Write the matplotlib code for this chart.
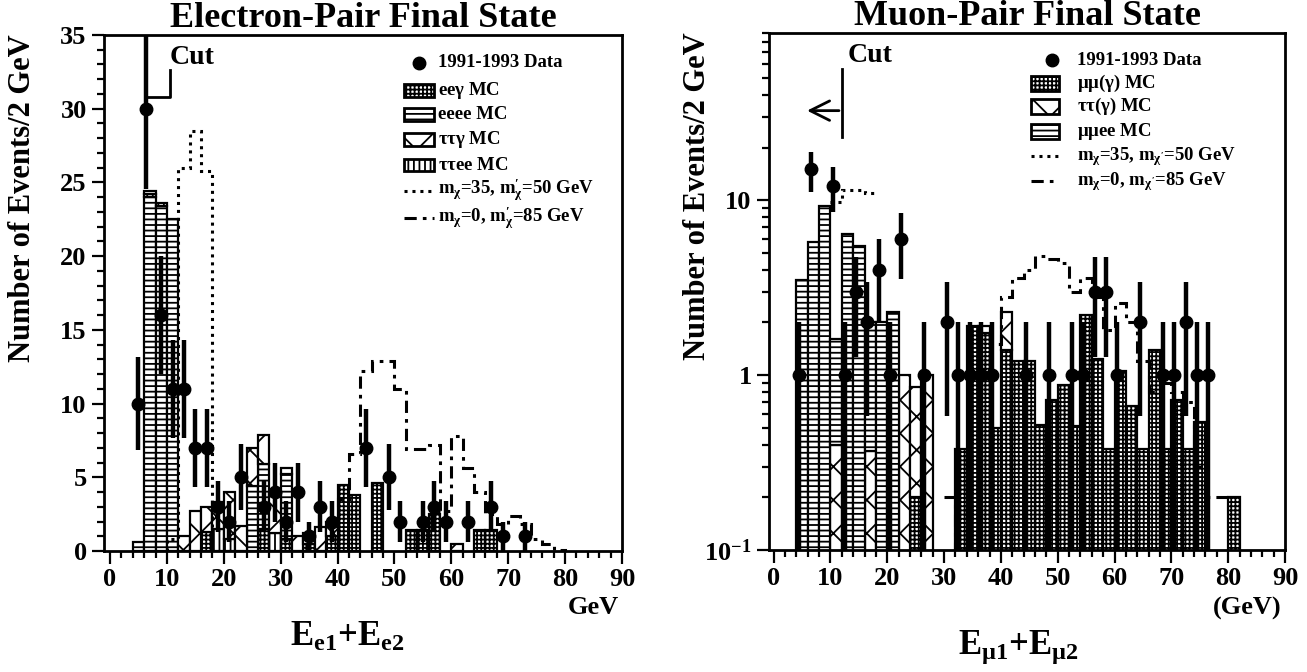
import matplotlib
matplotlib.use('Agg')
import matplotlib.pyplot as plt
import matplotlib.ticker as ticker
from matplotlib.patches import Rectangle
import numpy as np

plt.rcParams['font.family'] = ['Liberation Serif', 'DejaVu Serif']
plt.rcParams['font.weight'] = 'bold'
plt.rcParams['axes.titleweight'] = 'bold'
plt.rcParams['axes.labelweight'] = 'bold'
plt.rcParams['mathtext.fontset'] = 'custom'
plt.rcParams['mathtext.rm'] = 'Liberation Serif:bold'
plt.rcParams['mathtext.it'] = 'Liberation Serif:bold'
plt.rcParams['mathtext.bf'] = 'Liberation Serif:bold'
plt.rcParams['hatch.linewidth'] = 1.3

EDGES = np.arange(0, 92, 2)

# ---------------- electron pair (left) ----------------
# data points: energy sum, events
E_DATA_X = [5, 6.3, 9, 11, 13, 15, 17, 19, 21, 23, 27, 29, 31, 33, 35, 37, 39,
            45, 49, 51, 55, 57, 59, 63, 67, 69, 73]
E_DATA_N = [10, 30, 16, 11, 11, 7, 7, 3, 2, 5, 3, 4, 2, 4, 1, 3, 2,
            7, 5, 2, 2, 3, 2, 2, 3, 1, 1]

# MC components (lower bin edge, events/2 GeV)
E_EEG_LO = [16, 26, 30, 34, 38, 40, 42, 46, 52, 54, 56, 64, 66]
E_EEG = [1.3, 1.5, 0.8, 0.5, 1.0, 4.5, 3.8, 4.6, 1.4, 1.4, 2.5, 1.4, 1.4]
E_EEEE_LO = [4, 6, 8, 10, 24, 26, 30]
E_EEEE = [0.6, 24.0, 23.4, 22.5, 4.4, 4.4, 4.4]
E_TTEE_LO = [6, 8, 18, 20, 28]
E_TTEE = [0.2, 0.2, 1.5, 0.8, 1.2]
E_TTG_LO = [6, 12, 14, 16, 18, 20, 22, 24, 26, 28, 30, 32, 34, 36, 38, 60]
E_TTG = [0.2, 1.0, 2.7, 1.7, 1.8, 3.2, 1.7, 2.6, 2.0, 2.8, 0.4, 1.0, 0.7, 1.6, 1.0, 0.5]

# signal expectations
E_SIG35_LO = [10, 12, 14, 16]
E_SIG35 = [0.8, 26.0, 28.5, 25.8]
E_SIG0_LO = [38, 40, 42, 44, 46, 48, 50, 52, 54, 56, 58, 60, 62, 64, 66, 68, 70, 72, 74, 76, 78]
E_SIG0 = [1.0, 3.5, 6.6, 12.2, 12.9, 12.9, 11.0, 6.9, 6.9, 7.2, 2.7, 7.8, 5.6, 4.0,
          2.5, 1.8, 2.4, 1.8, 0.8, 0.5, 0.1]

# ---------------- muon pair (right) ----------------
M_DATA_X = [4.5, 6.5, 10.5, 12.5, 14.5, 16.5, 18.5, 20.5, 22.5, 26.5, 30.5, 32.5,
            34.5, 36.5, 38.5, 44.5, 48.5, 52.5, 54.5, 56.5, 58.5, 60.5, 64.5,
            68.5, 70.5, 72.5, 74.5, 76.5]
M_DATA_N = [1, 15, 12, 1, 3, 2, 4, 1, 6, 1, 2, 1,
            1, 1, 1, 1, 1, 1, 1, 3, 3, 1, 2,
            1, 1, 2, 1, 1]

M_MMG_LO = [24, 32, 34, 36, 38, 40, 42, 44, 46, 48, 50, 52, 54, 56, 58, 60, 62,
            64, 66, 68, 70, 72, 74, 80]
M_MMG = [0.2, 0.38, 1.9, 1.75, 0.5, 1.4, 1.2, 1.2, 0.52, 0.72, 0.88, 0.51, 2.2,
         1.23, 0.38, 1.05, 0.67, 0.38, 1.4, 0.38, 0.72, 0.38, 0.54, 0.2]
M_TT_LO = [10, 16, 22, 24, 26, 36, 40]
M_TT = [0.4, 0.37, 1.0, 0.66, 1.0, 0.15, 0.9]
M_MMEE_LO = [4, 6, 8, 10, 12, 14, 16, 18, 20]
M_MMEE = [3.5, 5.8, 9.3, 1.2, 6.4, 5.5, 1.63, 2.0, 2.3]

M_SIG35_LO = [10, 12, 14, 16]
M_SIG35 = [9.8, 11.5, 11.4, 11.0]
M_SIG0_LO = [30, 32, 34, 36, 38, 40, 42, 44, 46, 48, 50, 52, 54, 56, 58, 60, 62,
             64, 66, 68, 70, 72, 74, 76, 78]
M_SIG0 = [0.2, 0, 0, 0, 1.5, 2.8, 3.6, 4.0, 4.8, 4.6, 4.4, 3.0, 3.6, 2.8, 1.8,
          2.6, 2.0, 1.2, 0.8, 0.9, 0.8, 0.7, 0.3, 0.2, 0.2]


def full(lo, vals):
    arr = np.zeros(len(EDGES) - 1)
    idx = (np.array(lo) / 2).astype(int)
    arr[idx] = vals
    return arr


def stack(ax, comps, hatches):
    bottom = np.zeros(len(EDGES) - 1)
    for vals, h in zip(comps, hatches):
        m = vals > 0
        ax.bar(EDGES[:-1][m], vals[m], width=2, bottom=bottom[m], align='edge',
               facecolor='white', edgecolor='black', hatch=h, linewidth=1.6,
               zorder=2)
        bottom = bottom + vals


def sig_line(ax, lo, vals, ls, baseline):
    e = np.append(lo, lo[-1] + 2)
    ax.stairs(vals, e, baseline=baseline, color='black', linestyle=ls,
              linewidth=2.2, zorder=3)


def data_pts(ax, x, n, log=False):
    n = np.array(n, dtype=float)
    err = np.sqrt(n)
    lo = np.minimum(err, n * 0.999) if log else err
    ax.errorbar(x, n, yerr=[lo, err], fmt='o', color='black', ms=9,
                elinewidth=3.2, capsize=0, zorder=4)


def legend(ax, rows, px, pw, ph, tx, dot_x):
    for kind, style, y, label in rows:
        if kind == 'dot':
            ax.plot([dot_x], [y], 'o', color='black', ms=9, transform=ax.transAxes,
                    clip_on=False)
        elif kind == 'patch':
            ax.add_patch(Rectangle((px, y - ph / 2), pw, ph, transform=ax.transAxes,
                                   facecolor='white', edgecolor='black', hatch=style,
                                   linewidth=2))
        else:
            ax.plot([px, px + pw], [y, y], color='black', linestyle=style, lw=2.2,
                    transform=ax.transAxes)
        ax.text(tx, y, label, transform=ax.transAxes, fontsize=13.5, va='center',
                ha='left')


def style_axes(ax):
    for s in ax.spines.values():
        s.set_linewidth(2)
    ax.tick_params(which='both', direction='out', top=False, right=False,
                   labelsize=19, width=1.6)
    ax.tick_params(which='major', length=9)
    ax.tick_params(which='minor', length=5)
    ax.set_xticks(np.arange(0, 91, 10))
    ax.xaxis.set_minor_locator(ticker.MultipleLocator(2))


H_DOTS = '++++'
H_HORZ = '---'
H_VERT = '|||'
H_TT = 'x'
LS_DOT = (0, (1, 1.6))
LS_DDOT = (0, (4, 2, 1.2, 2))

fig = plt.figure(figsize=(13.07, 6.72), dpi=100)

# ---------- left panel ----------
ax1 = fig.add_axes([0.0796, 0.180, 0.3963, 0.768])
stack(ax1, [full(E_EEG_LO, E_EEG), full(E_EEEE_LO, E_EEEE),
            full(E_TTEE_LO, E_TTEE), full(E_TTG_LO, E_TTG)],
      [H_DOTS, H_HORZ, H_VERT, H_TT])
sig_line(ax1, E_SIG35_LO, E_SIG35, LS_DOT, 0)
sig_line(ax1, E_SIG0_LO, E_SIG0, LS_DDOT, 0)
data_pts(ax1, E_DATA_X, E_DATA_N)
ax1.plot([6.3, 6.3, 10.5, 10.5], [35, 30.8, 30.8, 32.6], color='black', lw=2, zorder=5)
ax1.text(10.5, 33.5, 'Cut', fontsize=20, va='center', ha='left')
ax1.set_xlim(-1.05, 90)
ax1.set_ylim(0, 35)
ax1.yaxis.set_major_locator(ticker.MultipleLocator(5))
ax1.yaxis.set_minor_locator(ticker.MultipleLocator(1))
style_axes(ax1)
ax1.set_title('Electron-Pair Final State', fontsize=26, pad=1)
ax1.set_ylabel('Number of Events/2 GeV', fontsize=22)
ax1.yaxis.set_label_coords(-0.13, 0.684)
ax1.text(0.47, -0.167, r'E$_{\rm e1}$+E$_{\rm e2}$', transform=ax1.transAxes,
         fontsize=25, ha='center', va='center')
ax1.text(0.944, -0.11, 'GeV', transform=ax1.transAxes, fontsize=19,
         ha='center', va='center')
legend(ax1, [('dot', None, 0.946, '1991-1993 Data'),
             ('patch', H_DOTS, 0.893, r'ee$\gamma$ MC'),
             ('patch', H_HORZ, 0.845, 'eeee MC'),
             ('patch', H_TT, 0.797, r'$\tau\tau\gamma$ MC'),
             ('patch', H_VERT, 0.748, r'$\tau\tau$ee MC'),
             ('line', LS_DOT, 0.698, r'm$_\chi$=35, m$^{\prime}_{\chi}$=50 GeV'),
             ('line', LS_DDOT, 0.645, r'm$_\chi$=0, m$^{\prime}_{\chi}$=85 GeV')],
       0.579, 0.058, 0.025, 0.645, 0.608)

# ---------- right panel ----------
ax2 = fig.add_axes([0.5884, 0.1815, 0.3948, 0.769])
ax2.set_yscale('log')
stack(ax2, [full(M_MMG_LO, M_MMG), full(M_TT_LO, M_TT), full(M_MMEE_LO, M_MMEE)],
      [H_DOTS, H_TT, H_HORZ])
sig_line(ax2, M_SIG35_LO, M_SIG35, LS_DOT, None)
sig_line(ax2, M_SIG0_LO, M_SIG0, LS_DDOT, None)
data_pts(ax2, M_DATA_X, M_DATA_N, log=True)
ax2.plot([12, 12], [23, 56], color='black', lw=2, zorder=5)
ax2.annotate('', xy=(5.4, 32.5), xytext=(12, 32.5),
             arrowprops=dict(arrowstyle='->', lw=2, mutation_scale=35, color='black'))
ax2.text(13, 67, 'Cut', fontsize=20, va='center', ha='left')
ax2.set_xlim(-0.8, 90)
ax2.set_ylim(0.1, 90)
ax2.yaxis.set_major_locator(ticker.FixedLocator([0.1, 1, 10]))
ax2.yaxis.set_major_formatter(ticker.FixedFormatter(['10$^{-1}$', '1', '10']))
ax2.yaxis.set_minor_locator(ticker.LogLocator(base=10, subs=np.arange(2, 10)))
ax2.yaxis.set_minor_formatter(ticker.NullFormatter())
style_axes(ax2)
ax2.set_title('Muon-Pair Final State', fontsize=26, pad=1)
ax2.set_ylabel('Number of Events/2 GeV', fontsize=22)
ax2.yaxis.set_label_coords(-0.11, 0.684)
ax2.text(0.482, -0.188, r'E$_{\mu 1}$+E$_{\mu 2}$', transform=ax2.transAxes,
         fontsize=25, ha='center', va='center')
ax2.text(0.926, -0.114, '(GeV)', transform=ax2.transAxes, fontsize=19,
         ha='center', va='center')
legend(ax2, [('dot', None, 0.948, '1991-1993 Data'),
             ('patch', H_DOTS, 0.903, r'$\mu\mu(\gamma)$ MC'),
             ('patch', H_TT, 0.858, r'$\tau\tau(\gamma)$ MC'),
             ('patch', H_HORZ, 0.810, r'$\mu\mu$ee MC'),
             ('line', LS_DOT, 0.762, r'm$_\chi$=35, m$_{\chi^{\prime}}$=50 GeV'),
             ('line', LS_DDOT, 0.714, r'm$_\chi$=0, m$_{\chi^{\prime}}$=85 GeV')],
       0.508, 0.054, 0.029, 0.597, 0.548)

fig.savefig('out.png', dpi=100)
